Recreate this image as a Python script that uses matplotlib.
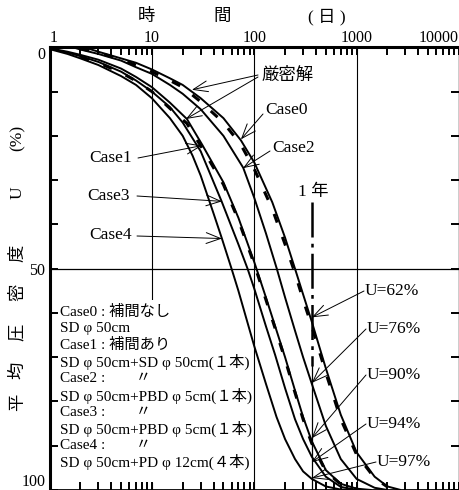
import matplotlib.pyplot as plt
from matplotlib.patches import Rectangle
from matplotlib.ticker import LogLocator, NullFormatter, FixedLocator, FixedFormatter

plt.rcParams['font.family'] = ['Liberation Serif', 'Noto Sans CJK JP']

# --- curves: time (days) and average degree of consolidation U (%)
t_case0 = [2.2, 3, 5, 7, 10, 15, 20, 30, 50, 74, 100, 150, 200, 250, 300, 365, 500, 700, 1000, 1500, 2000, 2700]
u_case0 = [0, 1, 2.5, 3.5, 5, 7, 8.5, 11.5, 16, 21, 26, 35, 43, 50, 55.8, 62, 72.5, 83, 91.5, 97, 99.2, 100]

t_case2 = [1.7, 2, 3, 5, 7, 10, 15, 20, 30, 50, 78, 100, 130, 166, 200, 250, 300, 365, 500, 700, 1000, 1500, 2000]
u_case2 = [0, 0.5, 1.5, 3, 4.5, 6, 8.5, 10.5, 14, 20, 27.2, 34, 42, 50, 56.5, 64, 70, 76, 85.5, 93, 97.5, 99.5, 100]

t_case1 = [1, 1.5, 2, 3, 5, 7, 10, 15, 22, 31, 50, 70, 100, 130, 160, 200, 250, 300, 365, 500, 700, 1000, 1400]
u_case1 = [0.2, 1, 1.7, 2.8, 4.8, 6.7, 9, 12.5, 16.2, 22, 30.5, 38.5, 48.5, 56.5, 63, 70, 77.5, 83.5, 89, 95.5, 98.6, 99.7, 100]

t_case3 = [1, 1.5, 2, 3, 5, 7, 10, 15, 20, 30, 48, 70, 86, 100, 130, 160, 200, 250, 300, 365, 500, 700, 1000]
u_case3 = [0.3, 1.2, 2, 3.3, 5.5, 7.5, 10, 13.5, 17, 23.5, 34.8, 44.5, 50, 54.5, 63, 69.5, 77, 84, 88.5, 92.5, 97, 99.3, 100]

t_case4 = [1, 1.5, 2, 3, 5, 7, 10, 15, 20, 25, 30, 40, 48, 60, 70, 100, 130, 165, 200, 250, 300, 365, 500, 700, 900]
u_case4 = [0.4, 1.5, 2.5, 4, 6.5, 8.5, 11.5, 16, 20, 24.5, 29, 37.5, 43, 50, 55, 67.5, 76, 83.5, 88.5, 93, 95.8, 97.5, 99.2, 99.9, 100]

# strict (exact) solutions, dashed
t_exact0 = [2, 3, 5, 7, 10, 15, 20, 30, 50, 74, 100, 150, 200, 250, 300, 365, 500, 700, 1000, 1500, 2000]
u_exact0 = [0.3, 1.2, 2.8, 4, 5.5, 7.5, 9, 12.3, 17, 22, 27.5, 36.5, 44.5, 51, 57, 63, 73.5, 84, 92, 97.3, 99.3]

t_exact1 = [2, 3, 5, 7, 10, 15, 22, 31, 50, 70, 100, 130, 160, 200, 250, 300, 365, 500, 700, 1000]
u_exact1 = [2.2, 3.5, 5.7, 7.6, 10, 13.8, 17.2, 22.8, 31, 39, 49, 57, 63.5, 70.5, 78, 84, 89.5, 95.8, 98.7, 99.8]

one_year = 365
year_u = [35, 72, 100]            # dash-dot part, then thin part of the 1-year marker
year_labels = ['U=62%', 'U=76%', 'U=90%', 'U=94%', 'U=97%']
year_values = [61, 75.8, 88.3, 93.7, 97.3]

x_ticks = [1, 10, 100, 1000, 10000]
x_ticklabels = ['1', '10', '100', '1000', '10000']

legend_lines = ['Case0 : 補間なし', 'SD φ 50cm', 'Case1 : 補間あり',
                'SD φ 50cm+SD φ 50cm(１本)', 'Case2 :　　〃',
                'SD φ 50cm+PBD φ 5cm(１本)', 'Case3 :　　〃',
                'SD φ 50cm+PBD φ 5cm(１本)', 'Case4 :　　〃',
                'SD φ 50cm+PD φ 12cm(４本)']

W, H = 459, 490
fig = plt.figure(figsize=(W / 100, H / 100), dpi=100)
ax = fig.add_axes([49.5 / W, 0.0, 409.5 / W, 442.7 / H])


def fpx(x, y):
    # figure pixel position measured from the top-left corner
    return (x, H - y)


def label(x, y, s, size=12.5, **kw):
    kw.setdefault('ha', 'left')
    kw.setdefault('va', 'center')
    fig.text(x / W, 1 - y / H, s, fontsize=size, **kw)


def arrow(tip, tail):
    ax.annotate('', xy=tip, xycoords='data', xytext=fpx(*tail), textcoords='figure pixels',
                arrowprops=dict(arrowstyle='->,head_length=0.8,head_width=0.3', lw=0.7,
                                color='black', shrinkA=0, shrinkB=0, mutation_scale=13))


ax.set_xscale('log')
ax.set_xlim(1, 10000)
ax.set_ylim(100, 0)

# grid lines
for xv in [10, 100, 1000]:
    ax.axvline(xv, color='black', lw=0.8, zorder=1)
ax.axhline(50, color='black', lw=0.9, zorder=1)

# curves
kw = dict(color='black', lw=1.4, zorder=3, solid_capstyle='butt')
ax.plot(t_case0, u_case0, **kw)
ax.plot(t_case2, u_case2, **kw)
ax.plot(t_case1, u_case1, **kw)
ax.plot(t_case3, u_case3, **kw)
ax.plot(t_case4, u_case4, **kw)
ax.plot(t_exact0, u_exact0, color='black', lw=2.2, ls=(0, (3, 5)), zorder=3)
ax.plot(t_exact1, u_exact1, color='black', lw=2.2, ls=(0, (3, 5)), zorder=3)

# 1-year marker
ax.plot([one_year, one_year], year_u[:2], color='black', lw=1.8, ls=(0, (14, 2.5, 1.5, 2.5)), zorder=3)
ax.plot([one_year, one_year], year_u[1:], color='black', lw=0.9, zorder=3)

# white box behind the legend text
ax.add_patch(Rectangle((1.13, 57), 90.6 - 1.13, 41.5, facecolor='white', edgecolor='none', zorder=1.5))

# spines and ticks
ax.spines['left'].set_linewidth(2.2)
ax.spines['top'].set_linewidth(2.2)
ax.spines['bottom'].set_linewidth(2.0)
ax.spines['right'].set_linewidth(1.0)

ax.xaxis.set_major_locator(FixedLocator(x_ticks))
ax.xaxis.set_major_formatter(FixedFormatter(x_ticklabels))
ax.xaxis.set_minor_locator(LogLocator(base=10, subs=range(2, 10)))
ax.xaxis.set_minor_formatter(NullFormatter())
ax.set_yticks(range(0, 101, 10))
ax.set_yticklabels(['0', '', '', '', '', '50', '', '', '', '', '100'])

ax.tick_params(which='both', direction='in', top=True, bottom=True, left=True, right=True,
               labeltop=True, labelbottom=False, labelright=False, length=6, width=1.4)
ax.tick_params(axis='x', pad=1, labelsize=11.5)
ax.tick_params(axis='y', pad=3, labelsize=11.5)
xl = ax.get_xticklabels()
xl[0].set_ha('left')
xl[-1].set_ha('right')
yl = ax.get_yticklabels()
yl[0].set_va('top')
yl[-1].set_va('bottom')

# axis titles
label(146, 17, '時', ha='center')
label(222, 17, '間', ha='center')
label(327, 17, '( 日 )', ha='center')
for ch, yy in [('平', 402), ('均', 370), ('圧', 332), ('密', 292), ('度', 253), ('U', 193), ('(%)', 138)]:
    label(18, yy, ch, ha='center', rotation=90)

# annotations
label(262, 76, '厳密解')
arrow((24.6, 9.6), (258, 75))
arrow((21.5, 16.2), (258, 77))
label(265, 110, 'Case0')
arrow((74, 20.8), (263, 114))
label(272, 148, 'Case2')
arrow((77.6, 27.3), (270, 151))
label(313, 192, '1 年', ha='center')

label(132, 158, 'Case1', ha='right')
arrow((30.9, 22.2), (138, 158))
label(130, 196, 'Case3', ha='right')
arrow((48.4, 34.8), (137, 196))
label(132, 235, 'Case4', ha='right')
arrow((48.4, 43.2), (137, 236))

year_text_pos = [(365, 291), (367, 329), (367, 375), (367, 424), (377, 462)]
for s, u, (x, y) in zip(year_labels, year_values, year_text_pos):
    label(x, y, s)
    arrow((one_year, u), (x - 1, y))

# legend block
for i, s in enumerate(legend_lines):
    label(60, 312 + i * 16.7, s, size=11)

fig.savefig('out.png', dpi=100)
